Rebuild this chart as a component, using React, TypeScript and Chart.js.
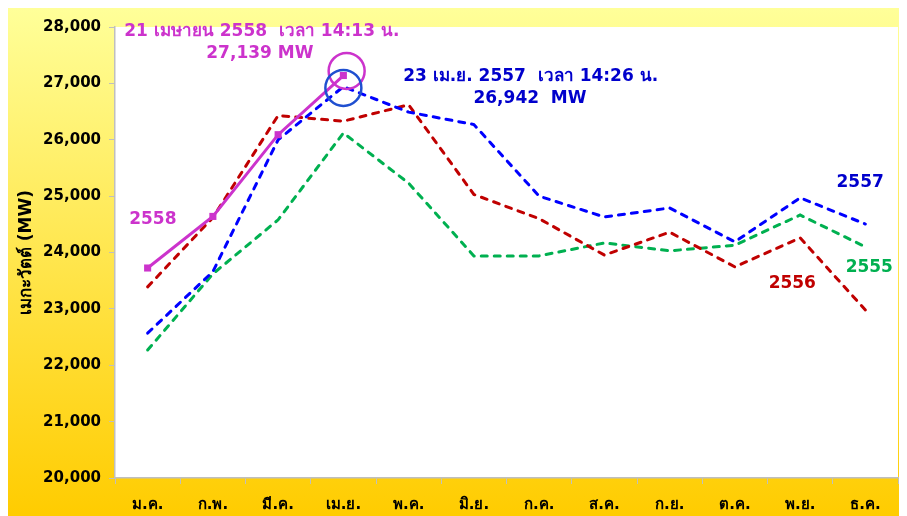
import React, { useEffect, useRef } from "react";
import { Chart, registerables } from "chart.js";

Chart.register(...registerables);

const months = ["ม.ค.", "ก.พ.", "มี.ค.", "เม.ย.", "พ.ค.", "มิ.ย.", "ก.ค.", "ส.ค.", "ก.ย.", "ต.ค.", "พ.ย.", "ธ.ค."];
const y2558 = [23725, 24640, 26090, 27139, null, null, null, null, null, null, null, null];
const y2557 = [22570, 23660, 26000, 26942, 26490, 26270, 25000, 24630, 24790, 24190, 24970, 24505];
const y2556 = [23390, 24620, 26430, 26330, 26620, 25030, 24600, 23955, 24360, 23745, 24260, 22980];
const y2555 = [22270, 23620, 24580, 26120, 25230, 23940, 23940, 24170, 24030, 24130, 24665, 24100];
const yTicks = [20000, 21000, 22000, 23000, 24000, 25000, 26000, 27000, 28000];

const MAGENTA = "#CC33CC";
const BLUE = "#0000FF";
const DARKBLUE = "#0000CC";
const RED = "#C00000";
const GREEN = "#00B050";
const FONT = "Tahoma, 'DejaVu Sans', 'Noto Sans', sans-serif";

const bgPlugin = {
  id: "bg",
  beforeDraw(chart: any) {
    const { ctx, width, height, chartArea } = chart;
    ctx.save();
    const g = ctx.createLinearGradient(0, 0, 0, height);
    g.addColorStop(0, "#FFFF99");
    g.addColorStop(1, "#FFCC00");
    ctx.fillStyle = g;
    ctx.fillRect(0, 0, width, height);
    ctx.fillStyle = "#FFFFFF";
    ctx.fillRect(chartArea.left, chartArea.top, chartArea.right - chartArea.left, chartArea.bottom - chartArea.top);
    ctx.restore();
  },
};

const annPlugin = {
  id: "ann",
  afterDatasetsDraw(chart: any) {
    const { ctx } = chart;
    const xs = chart.scales.x;
    const ys = chart.scales.y;
    const text = (s: string, xi: number, yv: number, color: string, size = 17) => {
      ctx.save();
      ctx.font = `bold ${size}px ${FONT}`;
      ctx.fillStyle = color;
      ctx.textAlign = "center";
      ctx.textBaseline = "middle";
      ctx.fillText(s, xs.getPixelForValue(xi), ys.getPixelForValue(yv));
      ctx.restore();
    };
    text("21 เมษายน 2558  เวลา 14:13 น.", 1.75, 27910, MAGENTA);
    text("27,139 MW", 1.72, 27520, MAGENTA);
    text("23 เม.ย. 2557  เวลา 14:26 น.", 5.87, 27113, DARKBLUE);
    text("26,942  MW", 5.86, 26723, DARKBLUE);
    text("2557", 10.92, 25233, DARKBLUE);
    text("2555", 11.06, 23725, GREEN);
    text("2556", 9.88, 23440, RED);
    text("2558", 0.08, 24577, MAGENTA);

    const circle = (xi: number, yv: number, color: string) => {
      ctx.save();
      ctx.strokeStyle = color;
      ctx.lineWidth = 2.5;
      ctx.beginPath();
      ctx.arc(xs.getPixelForValue(xi), ys.getPixelForValue(yv), 18, 0, Math.PI * 2);
      ctx.stroke();
      ctx.restore();
    };
    circle(3.05, 27220, MAGENTA);
    circle(3.0, 26920, "#1F4FD0");
  },
};

export default function App() {
  const ref = useRef<HTMLCanvasElement>(null);
  useEffect(() => {
    if (!ref.current) return;
    const dashed = (label: string, data: any[], color: string, w: number) => ({
      label,
      data,
      borderColor: color,
      backgroundColor: color,
      borderWidth: w,
      borderDash: [6, 7],
      borderCapStyle: "round",
      pointRadius: 0,
      tension: 0,
      fill: false,
    });
    const chart = new Chart(ref.current, {
      type: "line",
      data: {
        labels: months,
        datasets: [
          {
            label: "2558",
            data: y2558,
            borderColor: MAGENTA,
            backgroundColor: MAGENTA,
            borderWidth: 3,
            pointStyle: "rect",
            pointRadius: 5,
            pointBorderWidth: 0,
            tension: 0,
            fill: false,
            spanGaps: false,
          } as any,
          dashed("2557", y2557, BLUE, 3),
          dashed("2556", y2556, RED, 3),
          dashed("2555", y2555, GREEN, 3),
        ],
      },
      options: {
        animation: false,
        responsive: false,
        maintainAspectRatio: false,
        layout: { padding: { top: 19, right: 4, left: 0, bottom: 0 } },
        plugins: { legend: { display: false }, tooltip: { enabled: false } },
        scales: {
          x: {
            type: "category",
            offset: true,
            grid: { display: true, drawOnChartArea: false, offset: true, color: "#BFBFBF", tickLength: 6, lineWidth: 1 },
            border: { display: true, color: "#BFBFBF", width: 1.5 },
            ticks: { color: "#000", font: { family: FONT, size: 15, weight: "bold" }, padding: 12, maxRotation: 0, autoSkip: false },
            afterFit: (s: any) => { s.height = 38; },
          },
          y: {
            min: 20000,
            max: 28000,
            afterBuildTicks: (s: any) => { s.ticks = yTicks.map((v) => ({ value: v })); },
            grid: { display: true, drawOnChartArea: false, color: "#BFBFBF", tickLength: 6, lineWidth: 1 },
            border: { display: true, color: "#BFBFBF", width: 1.5 },
            ticks: {
              color: "#000",
              font: { family: FONT, size: 15, weight: "bold" },
              padding: 8,
              callback: (v: any) => Number(v).toLocaleString("en-US"),
            },
            title: {
              display: true,
              text: "เมกะวัตต์ (MW)",
              color: "#000",
              font: { family: FONT, size: 17, weight: "bold" },
              padding: { top: 8, bottom: 0 },
            },
            afterFit: (s: any) => { s.width = 107; },
          },
        },
      } as any,
      plugins: [bgPlugin, annPlugin],
    });
    return () => chart.destroy();
  }, []);
  return (
    <div style={{ width: 895, height: 508 }}>
      <canvas ref={ref} width={895} height={508} style={{ display: "block", width: 895, height: 508 }} />
    </div>
  );
}
